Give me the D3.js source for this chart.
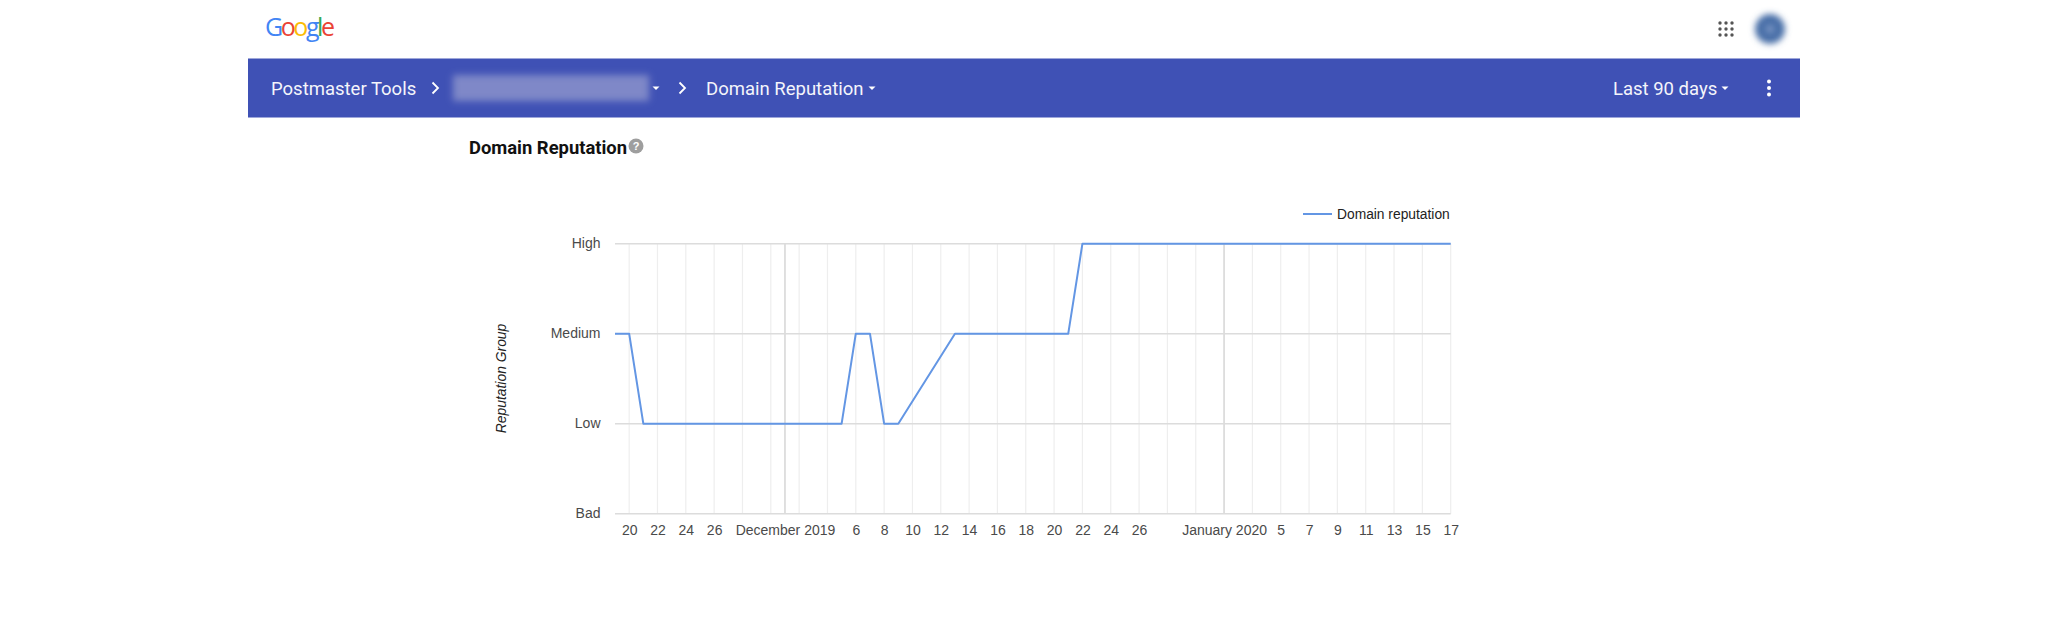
<!DOCTYPE html>
<html>
<head>
<meta charset="utf-8">
<script src="https://cdn.jsdelivr.net/npm/d3@7"></script>
<style>
  html, body { margin: 0; padding: 0; background: #fff; }
  svg { display: block; }
  .chart text { font-family: "Liberation Sans", Arial, sans-serif; }
  .head text { font-family: Roboto, sans-serif; }
</style>
</head>
<body>
<svg id="page" width="2048" height="640"></svg>
<script>
// reputation groups, bottom to top
var levelNames = ["Bad", "Low", "Medium", "High"];

// one entry per day from Nov 19 2019, null = no data that day
var novemberLevels = ["Medium", "Medium", "Low", "Low", "Low", "Low", "Low", "Low", "Low", "Low", "Low", "Low"];
var decemberLevels = ["Low", "Low", "Low", "Low", "Low", "Medium", "Medium", "Low", "Low", null, null, null,
  "Medium", "Medium", "Medium", "Medium", "Medium", "Medium", "Medium", "Medium", "Medium", "High", "High", "High",
  "High", "High", "High", "High", "High", "High", "High"];
var januaryLevels = ["High", "High", "High", "High", "High", "High", "High", "High", "High", "High", "High", "High",
  "High", "High", "High", "High", "High"];

// x axis ticks and what they say, empty where the chart leaves a gridline unlabelled
var tickDates = ["2019-11-20", "2019-11-22", "2019-11-24", "2019-11-26", "2019-11-28", "2019-11-30",
  "2019-12-01", "2019-12-02", "2019-12-04", "2019-12-06", "2019-12-08", "2019-12-10", "2019-12-12", "2019-12-14",
  "2019-12-16", "2019-12-18", "2019-12-20", "2019-12-22", "2019-12-24", "2019-12-26", "2019-12-28", "2019-12-30",
  "2020-01-01", "2020-01-03", "2020-01-05", "2020-01-07", "2020-01-09", "2020-01-11", "2020-01-13", "2020-01-15",
  "2020-01-17"];
var tickLabels = ["20", "22", "24", "26", "", "",
  "December 2019", "", "", "6", "8", "10", "12", "14",
  "16", "18", "20", "22", "24", "26", "", "",
  "January 2020", "", "5", "7", "9", "11", "13", "15",
  "17"];
var majorDates = ["2019-12-01", "2020-01-01"];

var startDate = new Date(Date.UTC(2019, 10, 19));
var endDate = new Date(Date.UTC(2020, 0, 17));

var plotLeft = 615, plotRight = 1450.7, plotTop = 243.7, plotBottom = 513.7;

var svg = d3.select("#page");
var defs = svg.append("defs");
defs.append("filter").attr("id", "blurBig").attr("x", "-20%").attr("y", "-40%").attr("width", "140%").attr("height", "180%")
  .append("feGaussianBlur").attr("stdDeviation", 3.5);
defs.append("filter").attr("id", "blurSoft").attr("x", "-50%").attr("y", "-50%").attr("width", "200%").attr("height", "200%")
  .append("feGaussianBlur").attr("stdDeviation", 3);

// ---- page header ----
var head = svg.append("g").attr("class", "head");

var logoLetters = ["G", "o", "o", "g", "l", "e"];
var logoColors = ["#4285f4", "#ea4335", "#fbbc05", "#4285f4", "#34a853", "#ea4335"];
var logo = head.append("text").attr("x", 265).attr("y", 36)
  .style("font-family", "'Open Sans', sans-serif").style("font-size", "25px").attr("textLength", 70);
logo.selectAll("tspan").data(logoLetters).enter().append("tspan")
  .attr("fill", function (d, i) { return logoColors[i]; })
  .text(function (d) { return d; });

// apps grid
var gridSteps = [0, 1, 2];
gridSteps.forEach(function (row) {
  gridSteps.forEach(function (col) {
    head.append("circle").attr("cx", 1720 + col * 6).attr("cy", 23 + row * 6).attr("r", 1.7).attr("fill", "#555");
  });
});

// avatar
head.append("circle").attr("cx", 1770).attr("cy", 29).attr("r", 15).attr("fill", "#4a6fa8").attr("filter", "url(#blurSoft)");
head.append("circle").attr("cx", 1770).attr("cy", 29).attr("r", 4).attr("fill", "#7d96c4").attr("filter", "url(#blurSoft)");

head.append("rect").attr("x", 248).attr("y", 58.5).attr("width", 1552).attr("height", 59).attr("fill", "#3f51b5");
head.append("rect").attr("x", 453).attr("y", 75).attr("width", 196).attr("height", 26).attr("fill", "#7f88c8").attr("filter", "url(#blurBig)");

function barText(x, str) {
  head.append("text").attr("x", x).attr("y", 94.5).attr("fill", "#f4f5fb").style("font-size", "18.5px").text(str);
}
function caret(x) {
  head.append("path").attr("d", "M" + (x - 3.5) + ",86.5h7l-3.5,3.5z").attr("fill", "#fff");
}
function chevron(x) {
  head.append("path").attr("d", "M" + (x - 2.5) + ",82.5l5.5,5.5l-5.5,5.5").attr("fill", "none").attr("stroke", "#fff").attr("stroke-width", 1.8);
}
barText(271, "Postmaster Tools");
chevron(435);
caret(656);
chevron(682);
barText(706, "Domain Reputation");
caret(872);
barText(1613, "Last 90 days");
caret(1725);
[81.5, 88, 94.5].forEach(function (y) {
  head.append("circle").attr("cx", 1769).attr("cy", y).attr("r", 2).attr("fill", "#fff");
});

// ---- chart ----
var chart = svg.append("g").attr("class", "chart");

chart.append("text").attr("x", 469).attr("y", 154).attr("fill", "#111")
  .style("font-family", "Roboto, sans-serif").style("font-weight", 700).style("font-size", "18.4px")
  .text("Domain Reputation");
chart.append("circle").attr("cx", 636).attr("cy", 146).attr("r", 7.5).attr("fill", "#9e9e9e");
chart.append("text").attr("x", 636).attr("y", 150).attr("text-anchor", "middle").attr("fill", "#fff")
  .style("font-size", "11px").style("font-weight", 700).text("?");

var x = d3.scaleUtc().domain([startDate, endDate]).range([plotLeft, plotRight]);
var y = d3.scalePoint().domain(levelNames).range([plotBottom, plotTop]);

var tickTimes = tickDates.map(function (d) { return new Date(d + "T00:00:00Z"); });
var labelFor = {};
tickDates.forEach(function (d, i) { labelFor[+tickTimes[i]] = tickLabels[i]; });

// vertical gridlines
chart.append("g").selectAll("line").data(tickDates).enter().append("line")
  .attr("x1", function (d, i) { return x(tickTimes[i]); })
  .attr("x2", function (d, i) { return x(tickTimes[i]); })
  .attr("y1", plotTop).attr("y2", plotBottom)
  .attr("stroke", function (d) { return majorDates.indexOf(d) >= 0 ? "#d8d8d8" : "#eeeeee"; })
  .attr("stroke-width", function (d) { return majorDates.indexOf(d) >= 0 ? 1.6 : 1.2; });

// horizontal gridlines
chart.append("g").selectAll("line").data(levelNames).enter().append("line")
  .attr("x1", plotLeft).attr("x2", plotRight)
  .attr("y1", function (d) { return y(d); }).attr("y2", function (d) { return y(d); })
  .attr("stroke", "#dcdcdc").attr("stroke-width", 1.4);

var xAxis = d3.axisBottom(x).tickValues(tickTimes).tickSize(0).tickPadding(11)
  .tickFormat(function (d) { return labelFor[+d]; });
var xg = chart.append("g").attr("transform", "translate(0," + plotBottom + ")").call(xAxis);
xg.select(".domain").remove();
xg.selectAll("text").attr("fill", "#4a4a4a").style("font-size", "14px");

var yAxis = d3.axisLeft(y).tickSize(0).tickPadding(14.5);
var yg = chart.append("g").attr("transform", "translate(" + plotLeft + ",0)").call(yAxis);
yg.select(".domain").remove();
yg.selectAll("text").attr("fill", "#4a4a4a").attr("dy", "0.3em").style("font-size", "14px");

chart.append("text").attr("transform", "translate(506,378.5) rotate(-90)").attr("text-anchor", "middle")
  .attr("fill", "#222").style("font-style", "italic").style("font-size", "13.9px").text("Reputation Group");

// the series, gap days are simply skipped so the line runs straight across them
var days = d3.utcDay.range(startDate, d3.utcDay.offset(endDate, 1));
var allLevels = novemberLevels.concat(decemberLevels, januaryLevels);
var points = days.map(function (d, i) { return { date: d, level: allLevels[i] }; })
  .filter(function (d) { return d.level !== null; });

var line = d3.line()
  .x(function (d) { return x(d.date); })
  .y(function (d) { return y(d.level); });

chart.append("path").datum(points).attr("d", line)
  .attr("fill", "none").attr("stroke", "#6396e4").attr("stroke-width", 2).attr("stroke-linejoin", "round");

// legend
chart.append("line").attr("x1", 1303).attr("x2", 1332).attr("y1", 214).attr("y2", 214)
  .attr("stroke", "#6396e4").attr("stroke-width", 2);
chart.append("text").attr("x", 1337).attr("y", 219).attr("fill", "#222").style("font-size", "13.8px").text("Domain reputation");
</script>
</body>
</html>
